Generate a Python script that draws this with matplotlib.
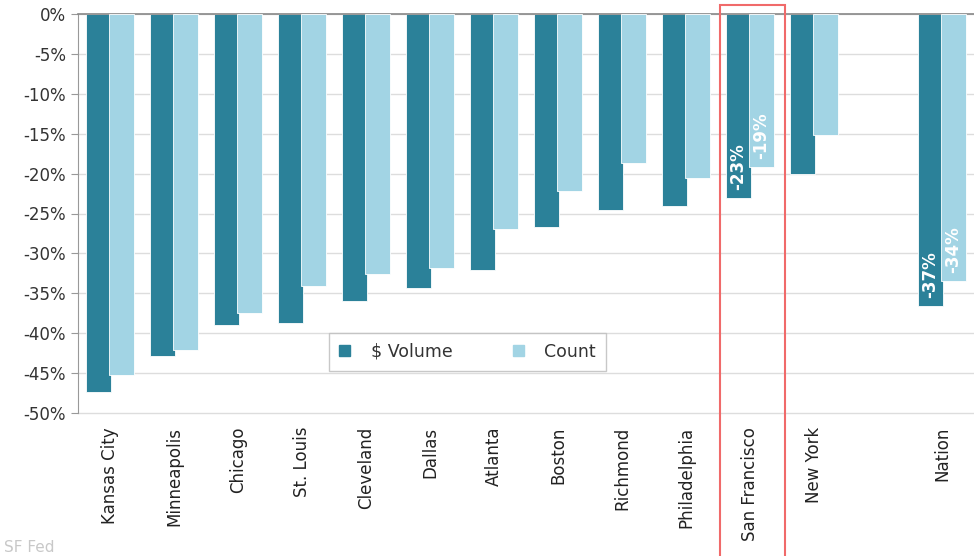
import numpy as np
import matplotlib
matplotlib.use("Agg")
import matplotlib.pyplot as plt
import matplotlib.transforms as mtransforms
from matplotlib.patches import Patch, Rectangle

districts = ["Kansas City", "Minneapolis", "Chicago", "St. Louis", "Cleveland", "Dallas",
             "Atlanta", "Boston", "Richmond", "Philadelphia", "San Francisco", "New York", "Nation"]
volume = [-47.4, -42.9, -39.0, -38.7, -36.0, -34.3, -32.1, -26.7, -24.6, -24.0, -23.1, -20.0, -36.6]
count = [-45.3, -42.1, -37.5, -34.1, -32.6, -31.8, -27.0, -22.2, -18.7, -20.6, -19.2, -15.2, -33.5]
labelled = ["San Francisco", "Nation"]

dark = "#2B8199"
light = "#A2D4E4"

plt.rcParams['font.family'] = ['DejaVu Sans']

fig = plt.figure(figsize=(9.74, 5.56), dpi=100)
ax = fig.add_axes([78/974, 1 - 413/556, 896/974, 399/556])

# blank slot before Nation
x = np.array(list(range(12)) + [13])
w = 0.40
off = 0.18

ax.bar(x - off, volume, w, color=dark, edgecolor="white", linewidth=0.6, zorder=2)
ax.bar(x + off, count, w, color=light, edgecolor="white", linewidth=0.6, zorder=3)

for i, name in enumerate(districts):
    if name in labelled:
        for xx, v in [(x[i] - off, volume[i]), (x[i] + off, count[i])]:
            ax.annotate(f"{v:.0f}%", xy=(xx, v), xytext=(0, 6), textcoords="offset points",
                        rotation=90, ha="center", va="bottom", color="white",
                        fontsize=12, fontweight="bold", zorder=4)

ax.set_xlim(-0.5, 13.5)
ax.set_ylim(-50, 0)
ax.set_yticks(np.arange(-50, 1, 5))
ax.set_yticklabels([f"{t}%" for t in range(-50, 1, 5)], fontsize=12, color="#333333")
ax.set_xticks(x)
ax.set_xticklabels(districts, rotation=90, fontsize=12, color="#222222")
ax.tick_params(axis="x", length=0, pad=10)
ax.tick_params(axis="y", length=5, color="#999999", direction="out")

ax.grid(axis="y", color="#dddddd", linewidth=1, zorder=0)
for gl in ax.yaxis.get_gridlines():
    gl.set_clip_on(False)
ax.set_axisbelow(True)
for s in ["right", "bottom"]:
    ax.spines[s].set_visible(False)
ax.spines["left"].set_color("#999999")
ax.spines["top"].set_color("#888888")
ax.spines["top"].set_linewidth(1.2)

handles = [Patch(color=dark, label="$ Volume"), Patch(color=light, label="Count")]
leg = ax.legend(handles=handles, loc="center", bbox_to_anchor=(0.435, 0.153), ncol=2,
                fontsize=12.5, handlelength=0.6, handleheight=0.6, columnspacing=3.5,
                handletextpad=1.2, fancybox=False, borderpad=0.6, borderaxespad=0)
leg.get_frame().set_edgecolor("#bbbbbb")
leg.get_frame().set_linewidth(1)
leg.set_zorder(5)
for t in leg.get_texts():
    t.set_color("#333333")

# highlight box around San Francisco
trans = mtransforms.blended_transform_factory(ax.transData, fig.transFigure)
sf = x[districts.index("San Francisco")]
ax.add_patch(Rectangle((sf - 0.47, -0.05), 1.02, 1 - 5/556 + 0.05, transform=trans,
                       fill=False, edgecolor="#F06A6A", linewidth=1.5, clip_on=False, zorder=6))

fig.text(0.004, 0.002, "SF Fed", fontsize=11, color="#c8c8c8", va="bottom", ha="left")

fig.savefig("out.png", dpi=100)
